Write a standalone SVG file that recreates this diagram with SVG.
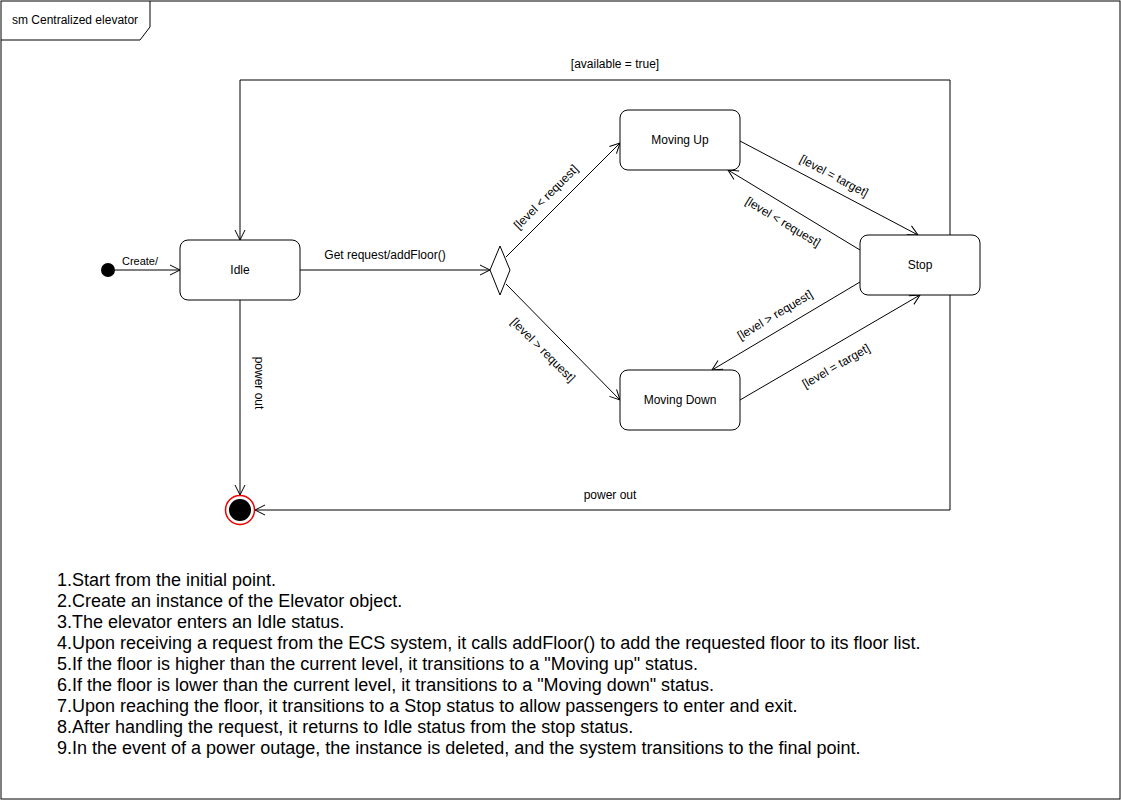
<svg xmlns="http://www.w3.org/2000/svg" width="1121" height="801" viewBox="0 0 1121 801">
<style>
text{font-family:"Liberation Sans",Arial,Helvetica,sans-serif;fill:#000}
.st{fill:#fff;stroke:#000;stroke-width:1}
.c{fill:none;stroke:#000;stroke-width:1}
.lbl{font-size:12px;text-anchor:middle;dominant-baseline:central}
.nl{font-size:12px;text-anchor:middle;dominant-baseline:central}
.desc{font-size:18px}
</style>
<defs>
<marker id="arr" markerUnits="userSpaceOnUse" markerWidth="12" markerHeight="12" viewBox="0 0 12 12" refX="11" refY="6" orient="auto">
<path d="M1,1 L11,6 L1,11" fill="none" stroke="#000" stroke-width="1"/>
</marker>
</defs>
<rect x="0" y="0" width="1121" height="801" fill="#fff"/>
<g id="frame">
<rect x="1" y="1" width="1119" height="798" fill="none" stroke="#000" stroke-width="1"/>
<path d="M1,40 H140 L150,27 V1" fill="none" stroke="#000" stroke-width="1"/>
<text x="12" y="24" font-size="12">sm Centralized elevator</text>
</g>
<g id="connectors">
<path class="c" d="M950,235 V80 H240 V240" marker-end="url(#arr)"/>
<path class="c" d="M950,295 V510 H255" marker-end="url(#arr)"/>
<line class="c" x1="115" y1="270" x2="180" y2="270" marker-end="url(#arr)"/>
<line class="c" x1="300" y1="270" x2="490" y2="270" marker-end="url(#arr)"/>
<line class="c" x1="240" y1="300" x2="240" y2="495" marker-end="url(#arr)"/>
<line class="c" x1="506" y1="257" x2="620" y2="143" marker-end="url(#arr)"/>
<line class="c" x1="506" y1="284" x2="620" y2="400" marker-end="url(#arr)"/>
<line class="c" x1="740" y1="141" x2="918" y2="235" marker-end="url(#arr)"/>
<line class="c" x1="860" y1="250" x2="728" y2="170" marker-end="url(#arr)"/>
<line class="c" x1="860" y1="282" x2="712" y2="370" marker-end="url(#arr)"/>
<line class="c" x1="740" y1="400" x2="920" y2="295" marker-end="url(#arr)"/>
<text x="615" y="64" class="lbl">[available = true]</text>
<text x="610" y="495" class="lbl">power out</text>
<text x="140" y="261" font-size="11" text-anchor="middle" dominant-baseline="central">Create/</text>
<text x="385" y="255" class="lbl">Get request/addFloor()</text>
<text class="lbl" transform="translate(259,383) rotate(90)">power out</text>
<text class="lbl" transform="translate(546,197) rotate(-45)">[level &lt; request]</text>
<text class="lbl" transform="translate(543,350) rotate(45)">[level &gt; request]</text>
<text class="lbl" transform="translate(834,176) rotate(28)">[level = target]</text>
<text class="lbl" transform="translate(783,222) rotate(31)">[level &lt; request]</text>
<text class="lbl" transform="translate(775,315) rotate(-31)">[level &gt; request]</text>
<text class="lbl" transform="translate(836,366) rotate(-30)">[level = target]</text>
</g>
<g id="initial">
<circle cx="108" cy="270" r="7" fill="#000"/>
</g>
<g id="idle">
<rect class="st" x="180" y="240" width="120" height="60" rx="8" ry="8"/>
<text x="240" y="270" class="nl">Idle</text>
</g>
<g id="decision">
<path class="st" d="M500,246 L510,270 L500,295 L490,270 Z"/>
</g>
<g id="movingUp">
<rect class="st" x="620" y="110" width="120" height="60" rx="8" ry="8"/>
<text x="680" y="140" class="nl">Moving Up</text>
</g>
<g id="movingDown">
<rect class="st" x="620" y="370" width="120" height="60" rx="8" ry="8"/>
<text x="680" y="400" class="nl">Moving Down</text>
</g>
<g id="stop">
<rect class="st" x="860" y="235" width="120" height="60" rx="8" ry="8"/>
<text x="920" y="265" class="nl">Stop</text>
</g>
<g id="final">
<circle cx="240" cy="510" r="14.5" fill="#fff" stroke="#e00" stroke-width="1.5"/>
<circle cx="240" cy="510" r="11" fill="#000"/>
</g>
<g id="notes" class="desc">
<text x="57" y="586">1.Start from the initial point.</text>
<text x="57" y="607">2.Create an instance of the Elevator object.</text>
<text x="57" y="628">3.The elevator enters an Idle status.</text>
<text x="57" y="649">4.Upon receiving a request from the ECS system, it calls addFloor() to add the requested floor to its floor list.</text>
<text x="57" y="670">5.If the floor is higher than the current level, it transitions to a "Moving up" status.</text>
<text x="57" y="691">6.If the floor is lower than the current level, it transitions to a "Moving down" status.</text>
<text x="57" y="712">7.Upon reaching the floor, it transitions to a Stop status to allow passengers to enter and exit.</text>
<text x="57" y="733">8.After handling the request, it returns to Idle status from the stop status.</text>
<text x="57" y="754">9.In the event of a power outage, the instance is deleted, and the system transitions to the final point.</text>
</g>
</svg>
